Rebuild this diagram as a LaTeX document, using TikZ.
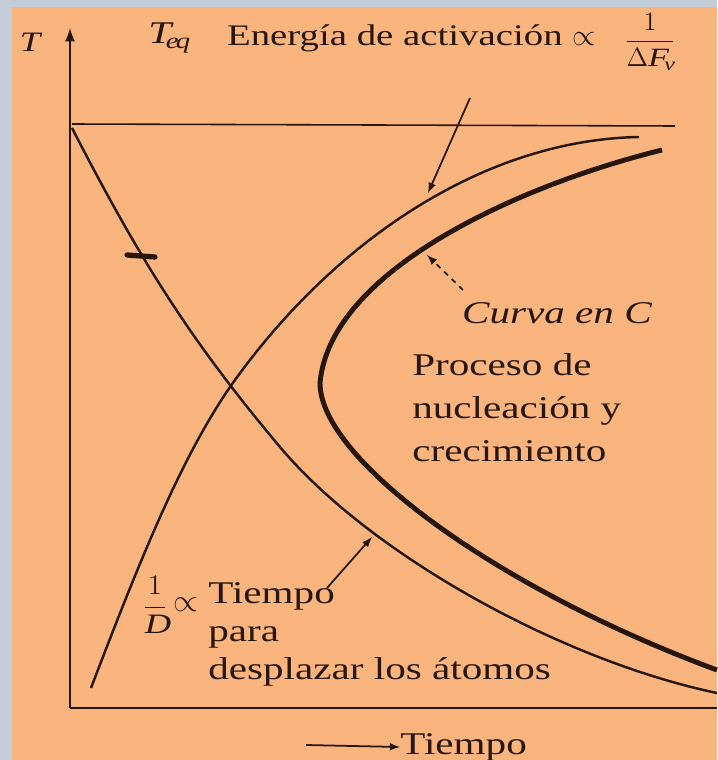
\RequirePackage{fix-cm}
\documentclass[tikz,border=0pt]{standalone}
\usepackage{fontspec}
\setmainfont{Liberation Serif}[FakeStretch=1.3]
\usetikzlibrary{positioning}

\definecolor{fondo}{RGB}{250,180,126}
\definecolor{marco}{RGB}{196,205,218}
\definecolor{tinta}{RGB}{38,22,12}

\tikzset{
  texto/.style={font=\fontsize{18}{21.6}\selectfont, text=tinta, inner sep=0pt},
  curvafina/.style={line width=1.4pt, tinta},
  curvagruesa/.style={line width=2.8pt, tinta},
  flecha/.style={->, line width=1pt, tinta},
}

\begin{document}
\begin{tikzpicture}[x=0.02cm, y=-0.02cm, >=latex]
    % Fondo: marco azulado y hoja anaranjada
    \fill[marco] (0,0) rectangle (717,760);
    \fill[fondo] (12,7) rectangle (717,760);
    \useasboundingbox (0,0) rectangle (717,760);

    % 1. Ejes T y tiempo
    \coordinate (O) at (70,708);
    \coordinate (ytop) at (70,28);
    \coordinate (xfin) at (717,708);
    \draw[->, line width=1.6pt, tinta] (O) -- (ytop);
    \draw[line width=1.6pt, tinta] (O) -- (xfin);
    \node[texto, font=\fontsize{16}{19}\selectfont\itshape] (tlab) at (30,42) {T};

    % 2. Temperatura de equilibrio
    \coordinate (eqa) at (72,124);
    \coordinate (eqb) at (675,126);
    \draw[line width=0.9pt, tinta] (eqa) -- (eqb);
    \node[texto] (teq) at (168,38) {$\mathit{T}_{\mathit{eq}}$};

    % 3. Curva de energía de activación (fina)
    \draw[curvafina] (91,688) .. controls (140,560) and (180,460) .. (230,387)
        .. controls (330,245) and (480,140) .. (639,137);

    % 4. Curva en C (gruesa)
    \draw[curvagruesa] (662,150) .. controls (520,185) and (330,270) .. (320,383)
        .. controls (320,460) and (500,590) .. (717,670);

    % 5. Curva de difusión 1/D
    \draw[curvafina] (72,128) .. controls (140,260) and (190,340) .. (280,447)
        .. controls (370,554) and (560,660) .. (717,693);
    \draw[line width=3pt, tinta, line cap=round] (127,255) -- (155,257);

    % 6. Rótulos
    \node[texto, anchor=east, font=\fontsize{17}{20}\selectfont] (energia) at (596,38)
        {Energía de activación $\propto$};
    \node[texto, font=\fontsize{15}{18}\selectfont] (frac) at (650,42)
        {$\displaystyle\frac{1}{\Delta\mathit{F}_{\mathit{v}}}$};
    \node[texto, font=\fontsize{18}{21.6}\selectfont\itshape] (curvac) at (557,313) {Curva en C};
    \node[texto, anchor=north west, align=left, font=\fontsize{18}{24.5}\selectfont]
        (proceso) at (412,353) {Proceso de\\nucleación y\\crecimiento};
    \node[texto, font=\fontsize{16}{19}\selectfont] (invd) at (155,605)
        {$\displaystyle\frac{1}{\mathit{D}}$};
    \node[texto, right=3pt of invd] (prop) {$\propto$};
    \node[texto, anchor=north west, align=left] (difus) at (208,582)
        {Tiempo\\para\\desplazar los átomos};
    \node[texto, anchor=west] (tiempo) at (400,747) {Tiempo};

    % 7. Flechas
    \coordinate (nrgbase) at (470,98);
    \coordinate (nrgpunta) at (428,193);
    \draw[flecha] (nrgbase) -- (nrgpunta);
    \coordinate (cbase) at (463,290);
    \coordinate (cpunta) at (427,255);
    \draw[flecha, dashed] (cbase) -- (cpunta);
    \coordinate (dbase) at (327,588);
    \coordinate (dpunta) at (372,537);
    \draw[flecha] (dbase) -- (dpunta);
    \coordinate (tini) at (306,745);
    \draw[flecha] (tini) -- (tiempo.west);

\end{tikzpicture}
\end{document}
